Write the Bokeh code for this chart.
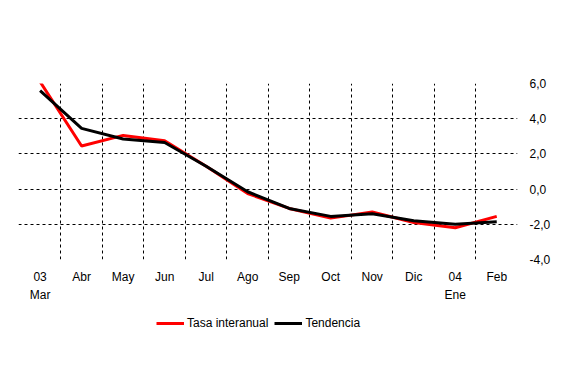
from bokeh.plotting import figure
from bokeh.layouts import column
from bokeh.models import FixedTicker, Legend, LegendItem, Range1d
from bokeh.embed import file_html
from bokeh.resources import INLINE

months = ["03\nMar", "Abr", "May", "Jun", "Jul", "Ago", "Sep", "Oct", "Nov", "Dic", "04\nEne", "Feb"]
tasa = [6.1, 2.45, 3.05, 2.75, 1.3, -0.25, -1.1, -1.65, -1.3, -1.9, -2.2, -1.55]
tendencia = [5.6, 3.45, 2.85, 2.65, 1.3, -0.15, -1.1, -1.55, -1.4, -1.8, -2.0, -1.85]
y_ticks = [-4, -2, 0, 2, 4, 6]
y_labels = ["-4,0", "-2,0", "0,0", "2,0", "4,0", "6,0"]
series_names = ["Tasa interanual", "Tendencia"]
series_colors = ["#ff0000", "#000000"]

x = list(range(len(months)))

p = figure(width=565, height=310, output_backend="svg", toolbar_location=None,
           x_range=Range1d(-0.52, 11.5), y_range=Range1d(-4, 6),
           y_axis_location="right", min_border_left=18, min_border_right=48,
           min_border_top=83, min_border_bottom=51)
p.outline_line_color = None
p.background_fill_color = "white"
p.border_fill_color = "white"

p.line(x, tasa, line_color=series_colors[0], line_width=3)
p.line(x, tendencia, line_color=series_colors[1], line_width=3)

font = "Liberation Sans"
xa = p.xaxis[0]
xa.ticker = FixedTicker(ticks=x)
xa.major_label_overrides = {i: m for i, m in enumerate(months)}
xa.axis_line_color = None
xa.major_tick_line_color = None
xa.minor_tick_line_color = None
xa.major_label_text_font = font
xa.major_label_text_font_size = "12px"
xa.major_label_text_color = "black"
xa.major_label_standoff = 4
xa.major_label_text_line_height = 1.35

ya = p.yaxis[0]
ya.ticker = FixedTicker(ticks=y_ticks)
ya.major_label_overrides = {t: l for t, l in zip(y_ticks, y_labels)}
ya.axis_line_color = None
ya.major_tick_line_color = None
ya.minor_tick_line_color = None
ya.major_label_text_font = font
ya.major_label_text_font_size = "12px"
ya.major_label_text_color = "black"
ya.major_label_standoff = 6

p.xgrid.ticker = FixedTicker(ticks=[i + 0.5 for i in range(11)])
p.ygrid.ticker = FixedTicker(ticks=[-2, 0, 2, 4])
for g in (p.xgrid[0], p.ygrid[0]):
    g.grid_line_color = "black"
    g.grid_line_dash = "3 3"
    g.grid_line_width = 1

# Legend strip below the chart (series drawn outside its visible range)
p2 = figure(width=565, height=66, output_backend="svg", toolbar_location=None,
            x_range=Range1d(-0.52, 11.5), y_range=Range1d(100, 101),
            min_border=0)
p2.outline_line_color = None
p2.axis.visible = False
p2.grid.visible = False
lr = [p2.line(x, s, line_color=c, line_width=3)
      for s, c in zip([tasa, tendencia], series_colors)]
legend = Legend(items=[LegendItem(label=n, renderers=[r]) for n, r in zip(series_names, lr)],
                orientation="horizontal", location=(138, 46),
                border_line_color=None, background_fill_alpha=0,
                label_text_font=font, label_text_font_size="12px",
                label_text_color="black",
                glyph_width=28, glyph_height=14, label_standoff=3, spacing=6,
                padding=0, margin=0)
p2.add_layout(legend, "center")

open("out.html", "w").write(file_html(column(p, p2, spacing=0), INLINE))
